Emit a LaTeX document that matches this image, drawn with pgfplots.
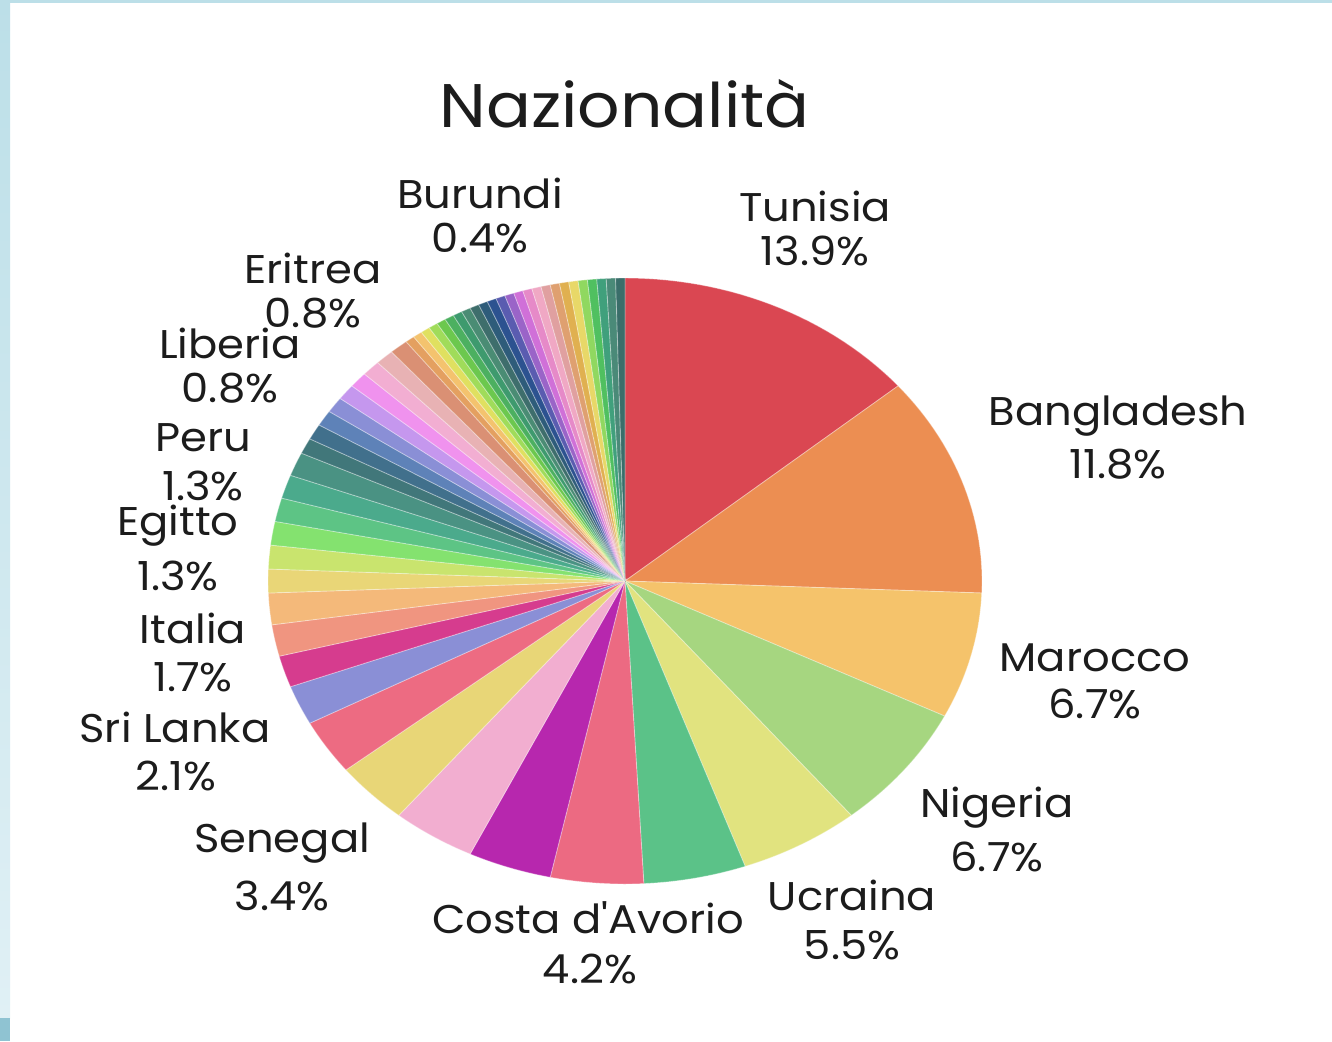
\documentclass[border=0pt]{standalone}
\usepackage{pgfplots}
\pgfplotsset{compat=1.18}
\usepackage{fontspec}
\setmainfont{Poppins}[FakeStretch=1.08]
\newfontfamily\plainfont{Poppins}[FakeStretch=1.08, Ligatures=ResetAll]
\definecolor{txt}{HTML}{1C1C1C}
\definecolor{strip}{HTML}{BCDFE8}
\definecolor{stripb}{HTML}{E0F0F5}
\definecolor{stripc}{HTML}{8FC3D2}
% slice colours
\definecolor{c1}{HTML}{DA4752}\definecolor{c2}{HTML}{EC8E52}\definecolor{c3}{HTML}{F5C36B}
\definecolor{c4}{HTML}{A6D680}\definecolor{c5}{HTML}{E1E37F}\definecolor{c6}{HTML}{5BC288}
\definecolor{c7}{HTML}{EC6A82}\definecolor{c8}{HTML}{B727AE}\definecolor{c9}{HTML}{F2AED0}
\definecolor{c10}{HTML}{E8D677}\definecolor{c11}{HTML}{ED6B82}\definecolor{c12}{HTML}{8A8FD6}
\definecolor{c13}{HTML}{D63C8E}\definecolor{c14}{HTML}{F09580}\definecolor{c15}{HTML}{F4B97A}
\definecolor{c16}{HTML}{E9D677}\definecolor{c17}{HTML}{C9E46E}\definecolor{c18}{HTML}{84E26F}
\definecolor{c19}{HTML}{5DC485}\definecolor{c20}{HTML}{4BAA8C}\definecolor{c21}{HTML}{4A9283}
\definecolor{c22}{HTML}{41777A}\definecolor{c23}{HTML}{41708C}\definecolor{c24}{HTML}{5E82B8}
\definecolor{c25}{HTML}{8A8FD6}\definecolor{c26}{HTML}{C597EE}\definecolor{c27}{HTML}{F092EE}
\definecolor{c28}{HTML}{F2AED2}\definecolor{c29}{HTML}{E8B2B4}\definecolor{c30}{HTML}{DA9074}
\definecolor{c31}{HTML}{E4A060}\definecolor{c32}{HTML}{F4C36E}\definecolor{c33}{HTML}{E0E060}
\definecolor{c34}{HTML}{A0DC5A}\definecolor{c35}{HTML}{6CC84E}\definecolor{c36}{HTML}{4CB060}
\definecolor{c37}{HTML}{3E9A6E}\definecolor{c38}{HTML}{4A8C74}\definecolor{c39}{HTML}{3E6E6C}
\definecolor{c40}{HTML}{2E5C7A}\definecolor{c41}{HTML}{2C5290}\definecolor{c42}{HTML}{5A5CB0}
\definecolor{c43}{HTML}{9A64C8}\definecolor{c44}{HTML}{D070D8}\definecolor{c45}{HTML}{E68AC8}
\definecolor{c46}{HTML}{F0A8C4}\definecolor{c47}{HTML}{E0A0A0}\definecolor{c48}{HTML}{DFA070}
\definecolor{c49}{HTML}{E0B050}\definecolor{c50}{HTML}{E8D868}\definecolor{c51}{HTML}{90D860}
\definecolor{c52}{HTML}{50C060}\definecolor{c53}{HTML}{40A07C}\definecolor{c54}{HTML}{4A8A78}
\definecolor{c55}{HTML}{3A6E6A}
\newcommand\lbl{\fontsize{11.4}{13}\selectfont}
\newcommand\cum{0}
\begin{document}
\begin{tikzpicture}
\path[use as bounding box] (0,0) rectangle (13.32,10.41);
\fill[white] (0,0) rectangle (13.32,10.41);
\shade[top color=strip, bottom color=stripb] (0,0.23) rectangle (0.10,10.41);
\fill[stripc] (0,0) rectangle (0.10,0.23);
\fill[strip] (0,10.38) rectangle (13.32,10.41);
\begin{axis}[at={(6.25cm,4.60cm)}, anchor=center, scale only axis,
  width=7.14cm, height=6.06cm, xmin=-1, xmax=1, ymin=-1, ymax=1,
  hide axis, clip=false]
% counts of people per nationality (total 238), clockwise from 12 o'clock
\foreach \cnt/\col in {33/c1,28/c2,16/c3,16/c4,13/c5,11/c6,10/c7,9/c8,9/c9,8/c10,
  7/c11,5/c12,4/c13,4/c14,4/c15,3/c16,3/c17,3/c18,3/c19,3/c20,3/c21,
  2/c22,2/c23,2/c24,2/c25,2/c26,2/c27,2/c28,2/c29,2/c30,
  1/c31,1/c32,1/c33,1/c34,1/c35,1/c36,1/c37,1/c38,1/c39,1/c40,1/c41,1/c42,1/c43,
  1/c44,1/c45,1/c46,1/c47,1/c48,1/c49,1/c50,1/c51,1/c52,1/c53,1/c54,1/c55}{
  \pgfmathsetmacro\s{90-\cum/238*360}
  \pgfmathsetmacro\e{90-(\cum+\cnt)/238*360}
  \pgfmathsetmacro\newcum{\cum+\cnt}
  \xdef\cum{\newcum}
  \edef\temp{\noexpand\addplot[fill=\col, draw=white, draw opacity=0.35, line width=0.25pt,
     domain=\e:\s, samples=30, variable=\noexpand\t]
     ({cos(\noexpand\t)},{sin(\noexpand\t)}) -- (axis cs:0,0) -- cycle;}
  \temp
}
\end{axis}
\begin{scope}[every node/.style={text=txt, inner sep=0pt, anchor=base, font=\lbl}]
\node[font=\fontsize{17.5}{20}\selectfont] at (6.245,9.14) {Nazionalità};
\node at (8.15,8.20) {Tunisia};        \node at (8.15,7.76) {13.9\%};
\node at (11.18,6.16) {Bangladesh};    \node at (11.18,5.63) {11.8\%};
\node at (10.95,3.70) {Marocco};       \node at (10.95,3.23) {6.7\%};
\node at (9.97,2.24) {Nigeria};        \node at (9.97,1.70) {6.7\%};
\node at (8.52,1.31) {Ucraina};        \node at (8.52,0.82) {5.5\%};
\node at (5.88,1.08) {Costa d{\plainfont '}Avorio}; \node at (5.90,0.58) {4.2\%};
\node at (2.82,1.89) {Senegal};        \node at (2.82,1.31) {3.4\%};
\node at (1.75,2.99) {Sri Lanka};      \node at (1.76,2.51) {2.1\%};
\node at (1.93,3.98) {Italia};         \node at (1.93,3.50) {1.7\%};
\node at (1.78,5.06) {Egitto};         \node at (1.78,4.51) {1.3\%};
\node at (2.03,5.90) {Peru};           \node at (2.03,5.41) {1.3\%};
\node at (2.30,6.83) {Liberia};        \node at (2.30,6.39) {0.8\%};
\node at (3.13,7.58) {Eritrea};        \node at (3.13,7.14) {0.8\%};
\node at (4.80,8.33) {Burundi};        \node at (4.80,7.89) {0.4\%};
\end{scope}
\end{tikzpicture}
\end{document}
